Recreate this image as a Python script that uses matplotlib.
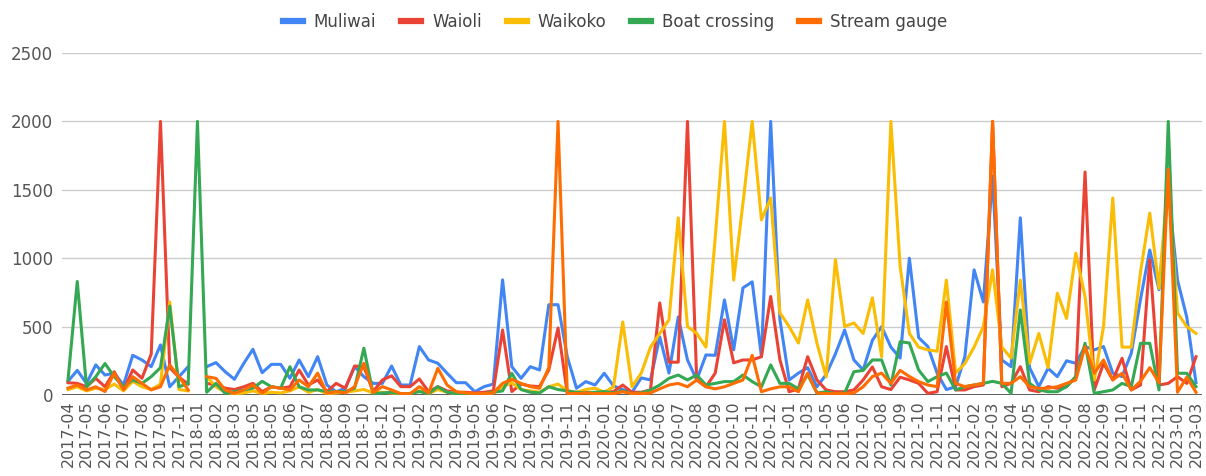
import numpy as np
import matplotlib.pyplot as plt

plt.rcParams['font.family'] = ['DejaVu Sans']

nan = np.nan

# category labels (Google skips every other category on the axis)
tick_labels = [
    "2017-04", "2017-05", "2017-06", "2017-07", "2017-08", "2017-09", "2017-11",
    "2018-01", "2018-02", "2018-03", "2018-05", "2018-05", "2018-06", "2018-07",
    "2018-08", "2018-09", "2018-10", "2018-12",
    "2019-01", "2019-02", "2019-03", "2019-04", "2019-05", "2019-06", "2019-07",
    "2019-08", "2019-10", "2019-11", "2019-12",
    "2020-01", "2020-02", "2020-05", "2020-06", "2020-07", "2020-08", "2020-09",
    "2020-10", "2020-11", "2020-12",
    "2021-01", "2021-03", "2021-05", "2021-06", "2021-07", "2021-08", "2021-09",
    "2021-10", "2021-11", "2021-12",
    "2022-02", "2022-03", "2022-04", "2022-05", "2022-06", "2022-07", "2022-08",
    "2022-09", "2022-10", "2022-11", "2022-12",
    "2023-01", "2023-03",
]

muliwai = [
    100, 180, 85, 220, 146, 160, 73, 290, 256, 207, 366, 60, 134, 207, nan,
    207, 237, 170, 115, 230, 334, 163, 224, 224, 122, 256, 134, 280, 73, 24,
    50, 207, 134, 85, 85, 212, 73, 73, 354, 256, 232, 159, 90, 90, 24, 61,
    80, 842, 207, 122, 207, 183, 660, 660, 280, 49, 98, 73, 159, 66, 40,
    20, 125, 110, 425, 160, 570, 256, 110, 293, 290, 695, 330, 783, 827, 280,
    2000, 550, 110, 160, 200, 60, 150, 300, 475, 256, 183, 400, 500, 350, 270,
    1000,
    420, 354, 160, 40, 60, 280, 915, 680, 1600, 256, 207, 1295, 200, 61, 195,
    134, 250, 232, 354, 330, 354, 160, 134, 305, 700, 1060, 770, 1500, 840,
    570, 90,
]

waioli = [
    90, 85, 60, 122, 60, 170, 37, 183, 122, 300, 2000, 200, 130, 80, nan,
    85, 73, 50, 40, 60, 85, 25, 60, 50, 60, 183, 73, 110, 25, 85,
    50, 212, 207, 24, 110, 140, 61, 61, 117, 24, 61, 30, 20, 20, 15, 20,
    30, 475, 25, 80, 66, 61, 183, 490, 12, 15, 20, 15, 20, 25, 73,
    20, 20, 37, 673, 240, 240, 2000, 110, 60, 160, 550, 235, 256, 256, 280,
    720, 256, 24, 45, 280, 110, 37, 24, 24, 37, 110, 205, 60, 40, 130,
    110,
    85, 12, 24, 354, 37, 37, 61, 73, 2000, 61, 85, 207, 37, 24, 61,
    49, 61, 134, 1630, 37, 232, 110, 268, 37, 73, 990, 73, 85, 134,
    85, 280,
]

waikoko = [
    40, 60, 30, 50, 40, 80, 30, 100, 60, 40, 80, 680, 40, 30, nan,
    134, 60, 20, 10, 15, 30, 10, 20, 15, 30, 60, 20, 40, 10, 15,
    20, 30, 40, 15, 20, 15, 10, 10, 30, 10, 40, 20, 10, 10, 5, 10,
    15, 60, 90, 40, 30, 20, 60, 80, 30, 20, 40, 50, 20, 60, 534,
    60, 160, 350, 450, 550, 1295, 500, 450, 350, 1150, 2000, 840, 1400, 2000, 1280,
    1440, 600, 500, 380, 695, 380, 132, 990, 500, 527, 450, 710, 280, 2000, 940,
    450,
    350, 330, 320, 840, 160, 230, 350, 500, 915, 350, 270, 840, 230, 450, 200,
    744, 560, 1037, 720, 110, 500, 1440, 350, 350, 900, 1330, 780, 1600, 600,
    500, 450,
]

boat_crossing = [
    110, 830, 60, 134, 230, 134, 60, 110, 85, 134, 200, 650, 60, 85, 2000,
    20, 85, 12, 25, 37, 50, 100, 60, 50, 207, 60, 37, 37, 25, 25,
    25, 50, 342, 10, 15, 20, 10, 10, 25, 10, 60, 20, 10, 10, 5, 10,
    20, 30, 159, 40, 20, 15, 60, 40, 30, 20, 15, 20, 25, 15, 30,
    10, 15, 37, 73, 122, 146, 110, 146, 73, 85, 98, 98, 146, 98, 60,
    220, 85, 85, 45, 150, 15, 24, 10, 15, 170, 180, 256, 256, 73, 390,
    380,
    183, 98, 134, 160, 37, 61, 73, 85, 100, 85, 12, 622, 85, 37, 24,
    24, 61, 134, 378, 12, 24, 37, 85, 61, 378, 378, 37, 2000, 159,
    159, 61,
]

stream_gauge = [
    50, 73, 37, 60, 25, 160, 37, 134, 85, 37, 60, 220, 134, 37, nan,
    134, 122, 37, 12, 37, 73, 12, 60, 50, 37, 110, 60, 160, 12, 25,
    15, 61, 232, 17, 61, 37, 10, 10, 61, 15, 195, 73, 24, 15, 10, 10,
    15, 85, 115, 85, 61, 49, 200, 2000, 12, 10, 15, 10, 10, 10, 24,
    10, 10, 15, 45, 73, 85, 60, 110, 60, 45, 60, 85, 110, 290, 24,
    45, 60, 60, 24, 160, 15, 10, 10, 10, 15, 60, 135, 160, 85, 180,
    135,
    98, 73, 61, 680, 85, 61, 73, 85, 2000, 85, 85, 134, 61, 49, 49,
    61, 85, 110, 354, 159, 256, 110, 159, 37, 100, 200, 90, 1650, 20,
    130, 20,
]

series = [
    ("Muliwai", muliwai, "#4285f4"),
    ("Waioli", waioli, "#ea4335"),
    ("Waikoko", waikoko, "#fbbc04"),
    ("Boat crossing", boat_crossing, "#34a853"),
    ("Stream gauge", stream_gauge, "#ff6d01"),
]

W, H = 1206, 476
fig = plt.figure(figsize=(W / 100, H / 100), dpi=100)
ax = fig.add_axes([62 / W, 81 / H, 1140 / W, 342 / H])

x = np.arange(len(muliwai))
for name, vals, col in series:
    ax.plot(x, vals, color=col, lw=2.2, label=name, solid_joinstyle="round")

ax.set_xlim(-0.65, len(x) - 1 + 0.65)
ax.set_ylim(0, 2500)
ax.set_yticks(np.arange(0, 2501, 500))
ax.yaxis.grid(True, color="#cccccc", lw=1)
ax.set_axisbelow(True)
ax.axhline(0, color="#444444", lw=1.2, zorder=1)
for s in ax.spines.values():
    s.set_visible(False)

ax.set_xticks(x[::2])
ax.set_xticklabels(tick_labels, rotation=90, fontsize=11.5, color="#555555")
ax.tick_params(axis="x", length=0, pad=4)
ax.tick_params(axis="y", length=0, pad=6.5, labelsize=12, labelcolor="#555555")

leg = fig.legend(loc="upper center", bbox_to_anchor=(0.51, 1.005), ncol=5,
                 frameon=False, fontsize=12, handlelength=1.2,
                 handletextpad=0.65, columnspacing=1.5)
for h in leg.get_lines():
    h.set_linewidth(4.5)
for t in leg.get_texts():
    t.set_color("#444444")

fig.savefig("out.png", dpi=100)
